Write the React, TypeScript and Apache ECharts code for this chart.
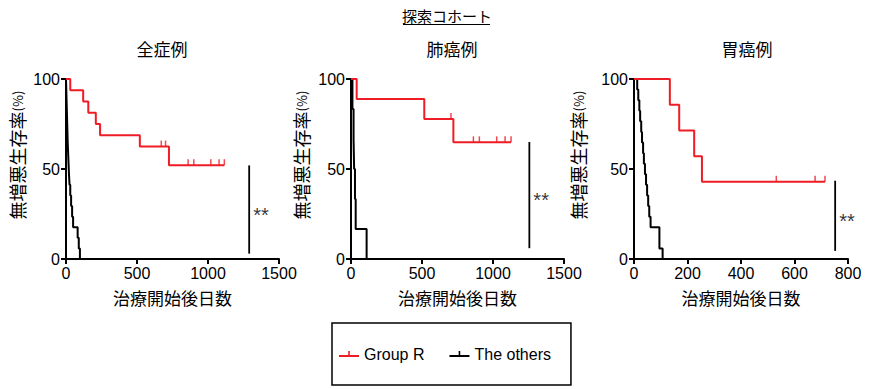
import React, { useEffect, useRef } from "react";
import * as echarts from "echarts";

// ---------- data ----------
const panelTitles = ["全症例", "肺癌例", "胃癌例"];
const xMaxes = [1500, 1500, 800];
const xIntervals = [500, 500, 200];
const yTicksMax = 100;
const yInterval = 50;

// 全症例
const allR_t = [0, 30, 121, 157, 210, 240, 520, 725, 1115];
const allR_s = [100, 93.75, 87.5, 81.25, 75, 68.75, 62.5, 52.1, 52.1];
const allR_censT = [671, 701, 860, 900, 1020, 1078, 1115];
const allR_censS = [62.5, 62.5, 52.1, 52.1, 52.1, 52.1, 52.1];
const allO_t = [0, 2, 4, 6, 8, 10, 12, 15, 18, 21, 25, 30, 36, 43, 50, 82, 90, 98];
const allO_s = [100, 94.1, 88.2, 82.4, 76.5, 70.6, 64.7, 58.8, 52.9, 47.1, 41.2, 35.3, 29.4, 23.5, 17.6, 11.8, 5.9, 0];

// 肺癌例
const lungR_t = [0, 40, 516, 721, 1127];
const lungR_s = [100, 88.9, 77.8, 64.8, 64.8];
const lungR_censT = [704, 862, 904, 1026, 1085, 1127];
const lungR_censS = [77.8, 64.8, 64.8, 64.8, 64.8, 64.8];
const lungO_t = [0, 10, 18, 22, 28, 33, 110];
const lungO_s = [100, 83.3, 66.7, 50, 33.3, 16.7, 0];

// 胃癌例
const gasR_t = [0, 134, 169, 225, 254, 714];
const gasR_s = [100, 85.7, 71.4, 57.1, 42.9, 42.9];
const gasR_censT = [532, 677, 714];
const gasR_censS = [42.9, 42.9, 42.9];
const gasO_t = [0, 12, 16, 20, 23, 27, 30, 34, 37, 41, 45, 49, 53, 57, 62, 95, 107];
const gasO_s = [100, 94.1, 88.2, 82.4, 76.5, 70.6, 64.7, 58.8, 52.9, 47.1, 41.2, 35.3, 29.4, 23.5, 17.6, 5.9, 0];

// significance bars
const sigX = [1290, 1256, 752];
const sigTop = [52, 65, 43.5];
const sigBottom = [3, 6, 4.5];
const sigText = ["**", "**", "**"];

const legendNames = ["Group R", "The others"];
const yAxisName = "無増悪生存率";
const yAxisUnit = "(%)";
const xAxisName = "治療開始後日数";
const mainTitle = "探索コホート";

// ---------- styling ----------
const RED = "#ee1c24";
const BLACK = "#000000";
const LATIN = "'Liberation Sans', Arial, sans-serif";
const CJK = "'Noto Sans CJK JP', 'Noto Sans', sans-serif";

const grids = [
  { left: 66, top: 79, width: 213, height: 180 },
  { left: 351, top: 79, width: 213, height: 180 },
  { left: 634, top: 79, width: 214, height: 180 },
];
const titleCenters = [162, 452, 747];
const yNameX = [17, 301, 578];

const panels = [
  { rT: allR_t, rS: allR_s, cT: allR_censT, cS: allR_censS, oT: allO_t, oS: allO_s },
  { rT: lungR_t, rS: lungR_s, cT: lungR_censT, cS: lungR_censS, oT: lungO_t, oS: lungO_s },
  { rT: gasR_t, rS: gasR_s, cT: gasR_censT, cS: gasR_censS, oT: gasO_t, oS: gasO_s },
];

function zip(a: number[], b: number[]) {
  return a.map((v, i) => [v, b[i]]);
}

export default function App() {
  const ref = useRef<HTMLDivElement>(null);
  useEffect(() => {
    document.body.style.margin = "0";
    if (!ref.current) return;
    const chart = echarts.init(ref.current, undefined, { renderer: "svg" });

    const xAxes = grids.map((_, i) => ({
      type: "value",
      gridIndex: i,
      min: 0,
      max: xMaxes[i],
      interval: xIntervals[i],
      name: xAxisName,
      nameLocation: "middle",
      nameGap: 30,
      nameTextStyle: { fontSize: 17, fontFamily: CJK, color: BLACK },
      axisLine: { show: true, onZero: false, lineStyle: { color: BLACK, width: 2 } },
      axisTick: { show: true, length: 5, lineStyle: { color: BLACK, width: 2 } },
      axisLabel: {
        fontSize: 16,
        fontFamily: LATIN,
        color: BLACK,
        margin: 6,
        formatter: (v: number) => String(v),
      },
      splitLine: { show: false },
    }));
    const yAxes = grids.map((_, i) => ({
      type: "value",
      gridIndex: i,
      min: 0,
      max: yTicksMax,
      interval: yInterval,
      axisLine: { show: true, onZero: false, lineStyle: { color: BLACK, width: 2 } },
      axisTick: { show: true, length: 5, lineStyle: { color: BLACK, width: 2 } },
      axisLabel: {
        fontSize: 16,
        fontFamily: LATIN,
        color: BLACK,
        margin: 6,
        formatter: (v: number) => String(v),
      },
      splitLine: { show: false },
    }));

    const series: any[] = [];
    panels.forEach((p, i) => {
      series.push({
        name: legendNames[1],
        type: "line",
        xAxisIndex: i,
        yAxisIndex: i,
        step: "end",
        symbol: "none",
        clip: false,
        color: BLACK,
        lineStyle: { color: BLACK, width: 2 },
        data: zip(p.oT, p.oS),
        z: 2,
      });
      series.push({
        name: legendNames[0],
        type: "line",
        xAxisIndex: i,
        yAxisIndex: i,
        step: "end",
        symbol: "none",
        clip: false,
        color: RED,
        lineStyle: { color: RED, width: 2 },
        data: zip(p.rT, p.rS),
        z: 3,
      });
      series.push({
        name: "censored",
        type: "scatter",
        xAxisIndex: i,
        yAxisIndex: i,
        symbol: "rect",
        symbolSize: [1.5, 6],
        symbolOffset: [0, -3],
        itemStyle: { color: RED },
        data: zip(p.cT, p.cS),
        z: 3,
      });
      series.push({
        name: "sig",
        type: "line",
        xAxisIndex: i,
        yAxisIndex: i,
        symbol: "none",
        clip: false,
        color: BLACK,
        lineStyle: { color: BLACK, width: 1.8 },
        data: [
          [sigX[i], sigTop[i]],
          [sigX[i], sigBottom[i]],
        ],
      });
      series.push({
        name: "sigLabel",
        type: "scatter",
        xAxisIndex: i,
        yAxisIndex: i,
        symbolSize: 0,
        itemStyle: { color: BLACK },
        label: {
          show: true,
          position: "right",
          distance: 4,
          offset: [0, 5],
          formatter: sigText[i],
          fontSize: 20,
          fontFamily: LATIN,
          color: BLACK,
        },
        data: [[sigX[i], (sigTop[i] + sigBottom[i]) / 2]],
      });
    });

    const graphics: any[] = [];
    const textStyle = (text: string, size: number, font: string) => ({
      text,
      fontSize: size,
      fontFamily: font,
      fill: BLACK,
      align: "center",
      verticalAlign: "middle",
      textAlign: "center",
      textVerticalAlign: "middle",
    });
    graphics.push({ type: "text", x: 447, y: 15.5, style: textStyle(mainTitle, 15, CJK) });
    graphics.push({
      type: "line",
      shape: { x1: 403, y1: 24.5, x2: 490, y2: 24.5 },
      style: { stroke: BLACK, lineWidth: 1 },
    });
    panelTitles.forEach((t, i) => {
      graphics.push({ type: "text", x: titleCenters[i], y: 48, style: textStyle(t, 17, CJK) });
      graphics.push({
        type: "text",
        x: yNameX[i],
        y: 155,
        rotation: Math.PI / 2,
        style: {
          ...textStyle(`{a|${yAxisName}}{b|${yAxisUnit}}`, 18, CJK),
          rich: {
            a: { fontSize: 18, fontFamily: CJK, fill: BLACK, color: BLACK },
            b: { fontSize: 13, fontFamily: CJK, fill: BLACK, color: BLACK },
          },
        },
      });
    });

    chart.setOption({
      animation: false,
      backgroundColor: "#ffffff",
      grid: grids,
      xAxis: xAxes,
      yAxis: yAxes,
      legend: {
        data: legendNames,
        left: 332,
        top: 323,
        orient: "horizontal",
        padding: [23, 20, 23, 7],
        itemGap: 25,
        itemWidth: 20,
        itemHeight: 6,
        icon: "path://M0,4L20,4L20,6L0,6Z M9.2,0L10.8,0L10.8,4L9.2,4Z",
        borderColor: BLACK,
        borderWidth: 1.5,
        borderRadius: 0,
        selectedMode: false,
        itemStyle: { borderWidth: 0 },
        textStyle: { fontSize: 16, fontFamily: LATIN, color: BLACK },
      },
      graphic: graphics,
      series,
    });
    return () => chart.dispose();
  }, []);
  return <div ref={ref} style={{ width: 880, height: 389 }} />;
}
